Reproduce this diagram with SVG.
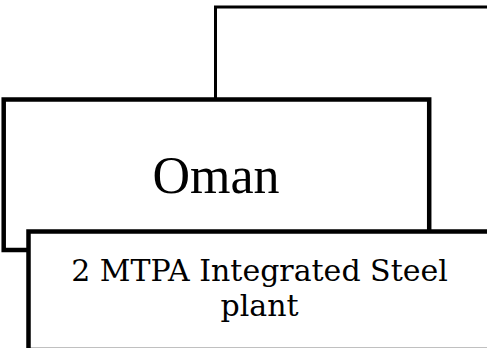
<svg xmlns="http://www.w3.org/2000/svg" width="487" height="348" viewBox="0 0 487 348">
<style>
.box{fill:#ffffff;stroke:#000000;}
.edge{fill:none;stroke:#000000;}
.t{fill:#000000;text-anchor:middle;}
.t1{font-family:"Liberation Serif","DejaVu Serif",serif;}
.t2{font-family:"DejaVu Serif","Liberation Serif",serif;}
</style>
<rect x="0" y="0" width="487" height="348" fill="#ffffff"/>
<g id="node-top">
<path class="edge" d="M215.5,100 V7 H500" stroke-width="3"/>
</g>
<g id="node-oman">
<rect class="box" x="3.7" y="99.5" width="425.5" height="150.5" stroke-width="4.5"/>
<text class="t t1" x="216" y="193" font-size="52">Oman</text>
</g>
<g id="node-plant">
<rect class="box" x="28.5" y="231.5" width="470" height="118.5" stroke-width="4.5"/>
<text class="t t2" x="259.5" y="281" font-size="30">2 MTPA Integrated Steel</text>
<text class="t t2" x="259.5" y="316" font-size="30">plant</text>
</g>
<g id="connectors"></g>
</svg>
